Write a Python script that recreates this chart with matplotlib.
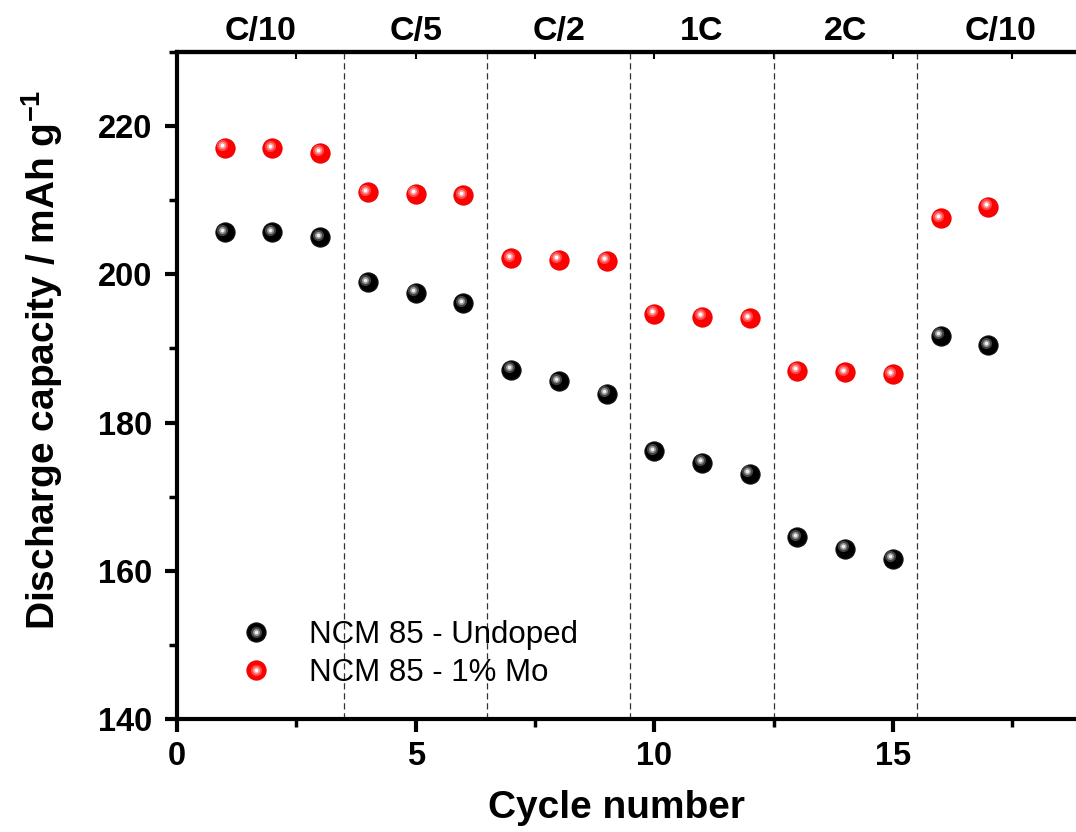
import matplotlib
matplotlib.use("Agg")
import matplotlib.pyplot as plt
from matplotlib import transforms
from matplotlib.legend_handler import HandlerTuple

plt.rcParams['font.family'] = ['Liberation Sans', 'DejaVu Sans']
plt.rcParams['mathtext.fontset'] = 'custom'
plt.rcParams['mathtext.bf'] = 'Liberation Sans:bold'
plt.rcParams['mathtext.rm'] = 'Liberation Sans'

# data
cycles = list(range(1, 18))
undoped = [205.7, 205.7, 205.0, 198.9, 197.5, 196.1, 187.1, 185.6, 183.9,
           176.1, 174.6, 173.1, 164.5, 163.0, 161.6, 191.7, 190.4]
mo_doped = [217.1, 217.0, 216.4, 211.1, 210.9, 210.7, 202.2, 202.0, 201.8,
            194.7, 194.3, 194.1, 187.0, 186.8, 186.5, 207.6, 209.1]
rate_bounds = [3.5, 6.5, 9.5, 12.5, 15.5]
rate_labels = ['C/10', 'C/5', 'C/2', '1C', '2C', 'C/10']
rate_centers = [1.75, 5.0, 8.0, 11.0, 14.0, 17.25]

fig = plt.figure(figsize=(10.76, 8.32), dpi=100)
ax = fig.add_axes([0.1645, 0.1358, 0.8428, 0.8017])


def sphere(ax, x, y, base, shades):
    """Draw glossy ball markers: base disc plus shifted highlight layers."""
    h_base, = ax.plot(x, y, 'o', ms=13.8, mfc=base, mec=shades[0], mew=0.8,
                      ls='none', zorder=3)
    shifted = transforms.offset_copy(ax.transData, fig=ax.figure,
                                     x=-1.8, y=1.8, units='points')
    handles = [h_base]
    for ms, c in zip([8, 5, 2.6], shades[1:]):
        h, = ax.plot(x, y, 'o', ms=ms, mfc=c, mec='none', ls='none',
                     zorder=4, transform=shifted)
        handles.append(h)
    return handles


black = sphere(ax, cycles, undoped, 'black', ['#111111', '#444444', '#9a9a9a', '#eeeeee'])
red = sphere(ax, cycles, mo_doped, '#ff0000', ['#ee0000', '#ff4a4a', '#ff9d9d', '#ffffff'])

for b in rate_bounds:
    ax.axvline(b, color='#333333', lw=0.9, ls=(0, (5, 3)), zorder=1)

for cx, lab in zip(rate_centers, rate_labels):
    ax.text(cx, 231.6, lab, ha='center', va='baseline', fontsize=24.5,
            fontweight='bold')

ax.set_xlim(0, 19)
ax.set_ylim(140, 230)
ax.set_xticks([0, 5, 10, 15])
ax.set_xticks([2.5, 7.5, 12.5, 17.5], minor=True)
ax.set_yticks([140, 160, 180, 200, 220])
ax.set_yticks([150, 170, 190, 210, 230], minor=True)

for side in ['left', 'bottom', 'top']:
    ax.spines[side].set_linewidth(3)
ax.spines['right'].set_visible(False)

ax.tick_params(which='major', direction='out', length=9, width=3,
               labelsize=23.5)
ax.tick_params(axis='y', which='major', pad=9)
ax.tick_params(axis='x', which='major', pad=7)
ax.tick_params(which='minor', direction='out', length=6, width=2.5)
for t in ax.get_xticklabels() + ax.get_yticklabels():
    t.set_fontweight('bold')

top = ax.secondary_xaxis('top')
top.set_xticks([0, 5, 10, 15])
top.set_xticks([2.5, 7.5, 12.5, 17.5], minor=True)
top.tick_params(which='both', direction='in', length=5, width=1.5,
                labeltop=False)
top.spines['top'].set_linewidth(3)

ax.set_xlabel('Cycle number', fontsize=28, fontweight='bold')
ax.xaxis.set_label_coords(0.485, -0.107)
ax.set_ylabel('Discharge capacity / mAh g$^{\\mathbf{-1}}$', fontsize=28,
              fontweight='bold')
ax.yaxis.set_label_coords(-0.123, 0.538)

ax.legend([tuple(black), tuple(red)],
          ['NCM 85 - Undoped', 'NCM 85 - 1% Mo'],
          handler_map={tuple: HandlerTuple(ndivide=1, pad=0)},
          loc='lower left', bbox_to_anchor=(0.035, 0.005), frameon=False,
          fontsize=22.5, handletextpad=1.1, labelspacing=0.25, handlelength=1.2)

fig.savefig('out.png', dpi=100)
